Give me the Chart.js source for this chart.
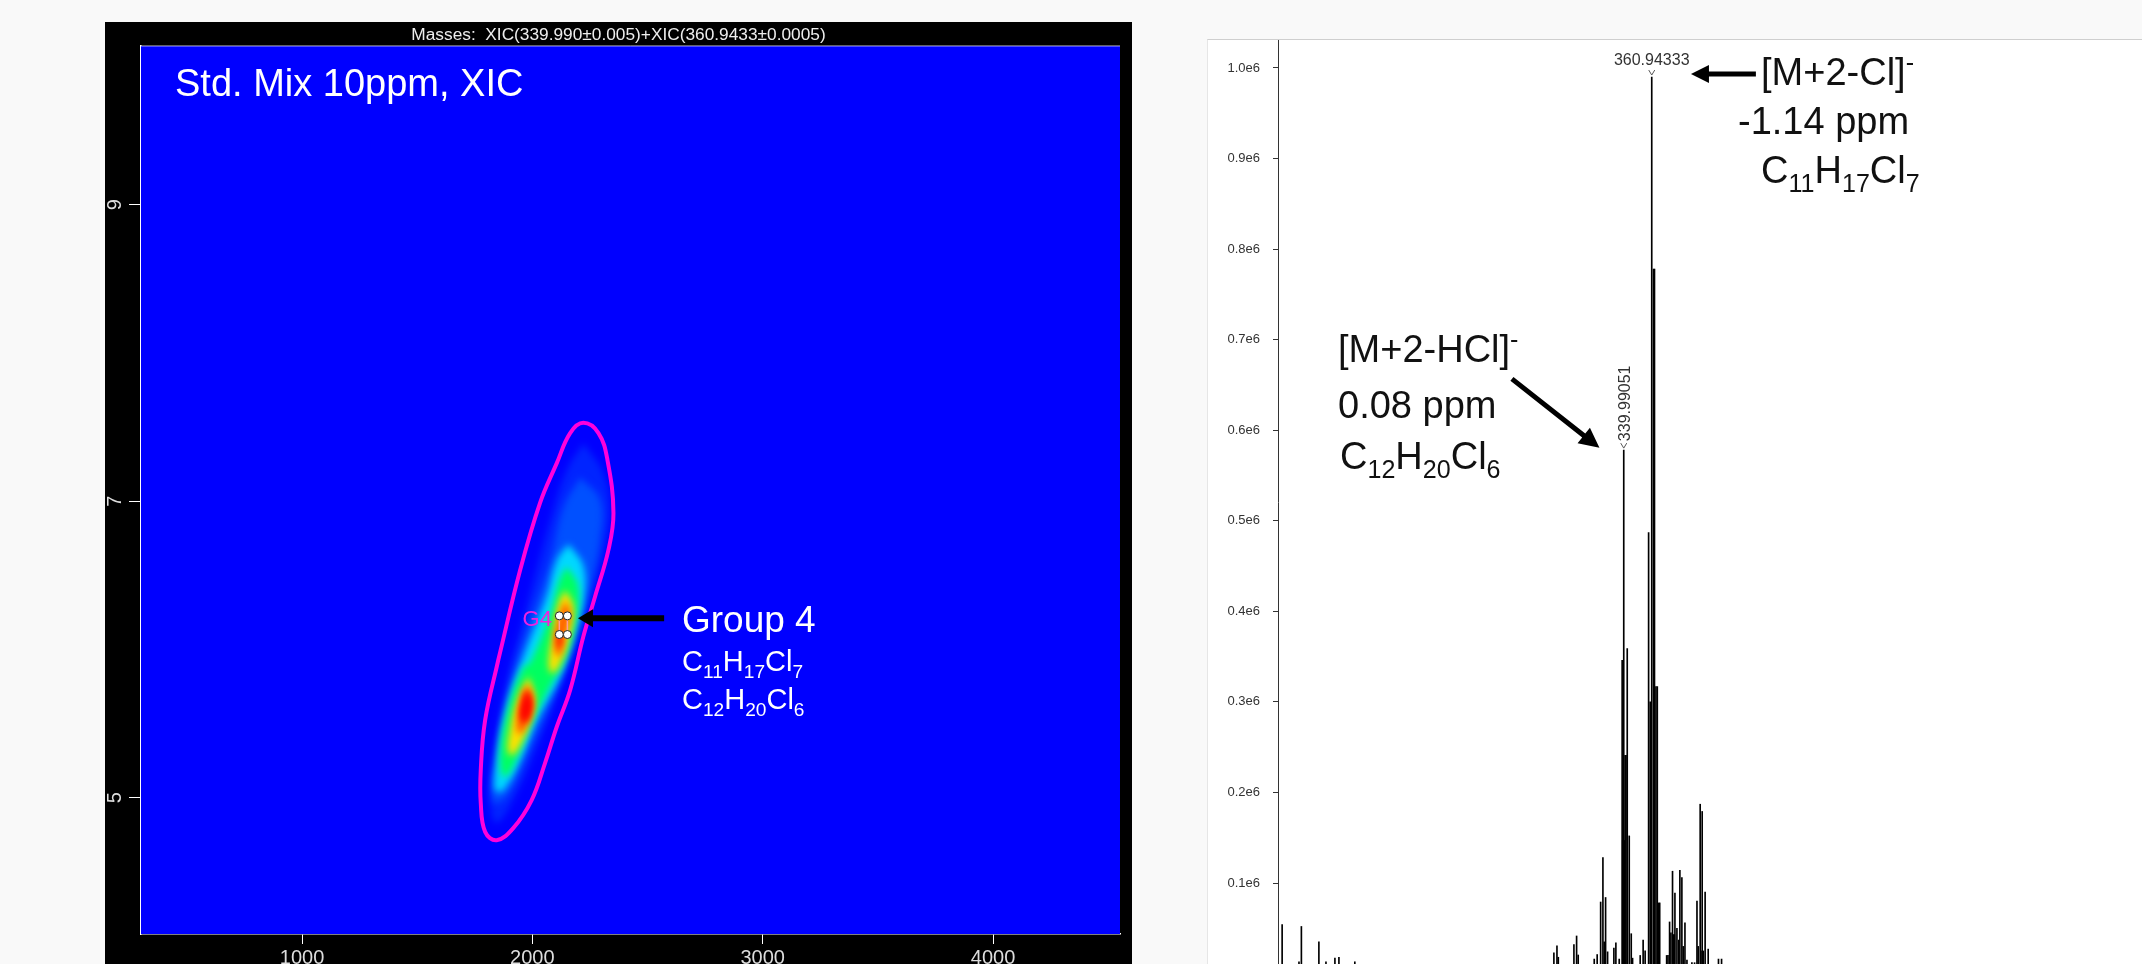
<!DOCTYPE html>
<html>
<head>
<meta charset="utf-8">
<script src="https://cdn.jsdelivr.net/npm/chart.js@4"></script>
<style>
  html, body { margin: 0; height: 100%; background: #f9f9f9; overflow: hidden; }
  body { width: 2142px; height: 964px; position: relative; font-family: "Liberation Sans", Arial, sans-serif; }
  .box { position: absolute; }
  #mapBox { left: 105px; top: 22px; width: 1027px; height: 942px; background: #000; }
  #specBox { left: 1207px; top: 39px; width: 935px; height: 925px; box-sizing: border-box; background: #fff; border-top: 1px solid #cfcfcf; border-left: 1px solid #e6e6e6; }
  .note { position: absolute; white-space: nowrap; line-height: 1; }
  .note sub { font-size: .66em; line-height: 0; }
  .note sup { font-size: .66em; line-height: 0; }
  .w { color: #fff; }
  .k { color: #111; }
</style>
</head>
<body>
<div class="box" id="mapBox"><canvas id="map"></canvas></div>
<div class="box" id="specBox"><canvas id="spec"></canvas></div>

<div class="note w" style="left:175px;top:64px;font-size:38px">Std. Mix 10ppm, XIC</div>
<div class="note w" style="left:682px;top:601px;font-size:37px">Group 4</div>
<div class="note w" style="left:682px;top:647px;font-size:29px">C<sub>11</sub>H<sub>17</sub>Cl<sub>7</sub></div>
<div class="note w" style="left:682px;top:685px;font-size:29px">C<sub>12</sub>H<sub>20</sub>Cl<sub>6</sub></div>

<div class="note k" style="left:1761px;top:53px;font-size:38px">[M+2-Cl]<sup>-</sup></div>
<div class="note k" style="left:1738px;top:102px;font-size:38px">-1.14 ppm</div>
<div class="note k" style="left:1761px;top:151px;font-size:38px">C<sub>11</sub>H<sub>17</sub>Cl<sub>7</sub></div>
<div class="note k" style="left:1338px;top:330px;font-size:38px">[M+2-HCl]<sup>-</sup></div>
<div class="note k" style="left:1338px;top:386px;font-size:38px">0.08 ppm</div>
<div class="note k" style="left:1340px;top:437px;font-size:38px">C<sub>12</sub>H<sub>20</sub>Cl<sub>6</sub></div>

<script>
// left panel: retention time map
const mapTitle = 'Masses:  XIC(339.990±0.005)+XIC(360.9433±0.0005)';
const mapXTicks = [1000, 2000, 3000, 4000];
const mapYTicks = [5, 7, 9];

const outlineX = [1852, 1947, 2033, 2106, 2164, 2221, 2287, 2326, 2352, 2330, 2272, 2221, 2164, 2106, 2055, 1997, 1917, 1845, 1795, 1776, 1776, 1795];
const outlineY = [5.928, 6.535, 6.987, 7.256, 7.459, 7.528, 7.459, 7.277, 6.919, 6.669, 6.355, 6.085, 5.725, 5.478, 5.233, 4.983, 4.794, 4.713, 4.769, 4.963, 5.186, 5.523];

const haloX = [2222, 2308, 2337, 2294, 2222, 2135, 2033, 1932, 1845, 1816, 1831, 1889, 1976, 2077, 2149];
const haloY = [7.39, 7.19, 6.92, 6.56, 6.20, 5.82, 5.39, 5.03, 4.83, 4.98, 5.32, 5.79, 6.29, 6.87, 7.21];
const blueX = [2207, 2294, 2294, 2236, 2178, 2091, 1990, 1889, 1831, 1838, 1889, 1961, 2077, 2135];
const blueY = [7.16, 7.01, 6.74, 6.33, 6.02, 5.68, 5.34, 5.01, 4.97, 5.21, 5.66, 6.06, 6.60, 6.96];
const cyanX = [2157, 2222, 2222, 2178, 2120, 2019, 1947, 1874, 1838, 1845, 1889, 1961, 2062, 2106];
const cyanY = [6.71, 6.56, 6.33, 6.09, 5.82, 5.52, 5.25, 5.05, 5.05, 5.25, 5.61, 5.95, 6.36, 6.60];
const greenX = [2149, 2200, 2185, 2135, 2077, 1990, 1910, 1874, 1860, 1896, 1961, 1990, 2077, 2113];
const greenY = [6.56, 6.42, 6.15, 5.91, 5.75, 5.48, 5.19, 5.14, 5.30, 5.61, 5.88, 5.91, 6.24, 6.45];
const yellowUpX = [2142, 2178, 2157, 2113, 2084, 2070, 2091, 2113];
const yellowUpY = [6.40, 6.29, 6.06, 5.88, 5.84, 5.91, 6.13, 6.31];
const yellowLowX = [1983, 2012, 1983, 1925, 1896, 1903, 1939];
const yellowLowY = [5.82, 5.66, 5.48, 5.30, 5.30, 5.46, 5.68];
const orangeUpX = [2142, 2164, 2135, 2117, 2099, 2109];
const orangeUpY = [6.33, 6.24, 6.06, 5.95, 6.00, 6.18];
const orangeLowX = [1978, 2002, 1973, 1939, 1935, 1954];
const orangeLowY = [5.77, 5.64, 5.48, 5.43, 5.55, 5.68];
const redUpX = [2117, 2128, 2117, 2109];
const redUpY = [6.13, 6.06, 6.00, 6.06];
const redLowX = [1978, 1993, 1968, 1954, 1964];
const redLowY = [5.73, 5.62, 5.51, 5.55, 5.66];

const dotX = [2117, 2152, 2117, 2152];
const dotY = [6.226, 6.226, 6.10, 6.10];

// right panel: mass spectrum
const specMz = [84.3, 96.9, 98.7, 111.8, 117.1, 123.8, 126.8, 138.7,
  287.7, 290, 291, 302.7, 304.7, 305.9, 317.9, 320.1, 322.7, 324.4, 325.4, 326.4, 327.9, 332.6, 334.1, 336.6,
  338.8, 339.2, 339.6, 339.99051, 340.5, 341, 341.7, 342.6, 344.1, 345.6, 346.6, 352.3, 354.5, 356,
  358.6, 359.8, 360.94333, 362.3, 363, 364.1, 365.1, 366.1, 366.9,
  372.1, 373.1, 374.3, 375.3, 376.5, 377.2, 377.9, 378.3, 379.8, 381.1, 382, 383.5, 384.5, 385.8, 387.3, 391, 393,
  394.8, 395.7, 397.2, 397.8, 398.7, 399.5, 400.9, 403.2, 410.9, 413.2];
const specIntensity = [54000, 13000, 52000, 35000, 13000, 17000, 18000, 13000,
  23000, 30500, 18000, 32000, 41500, 20500, 16000, 21000, 79000, 128000, 35000, 84000, 24000, 28000, 34000, 16000,
  346000, 147000, 147000, 578000, 147000, 241000, 241000, 359000, 152000, 44000, 17000, 20000, 37000, 25000,
  487000, 300000, 990000, 778000, 778000, 317000, 317000, 78000, 78000,
  20000, 20000, 57000, 45000, 113000, 43000, 43000, 89000, 50000, 37000, 114000, 106000, 30000, 56000, 15000, 12000, 12000,
  80000, 30000, 187000, 25000, 179000, 25000, 90000, 27000, 16000, 16000];
const specYTicks = [100000, 200000, 300000, 400000, 500000, 600000, 700000, 800000, 900000, 1000000];
const labelledMz = [360.94333, 339.99051];

function closed(xs, ys) {
  const pts = xs.map((x, i) => ({ x: x, y: ys[i] }));
  pts.push(pts[0]);
  return pts;
}

function contour(xs, ys, colour, order) {
  return {
    type: 'scatter', data: closed(xs, ys), showLine: true, fill: 'shape',
    backgroundColor: colour, borderWidth: 0, pointRadius: 0, tension: 0.4, order: order
  };
}

function drawArrow(ctx, x1, y1, x2, y2, width, headLen, headHalf) {
  const a = Math.atan2(y2 - y1, x2 - x1);
  ctx.save();
  ctx.translate(x2, y2);
  ctx.rotate(a);
  ctx.fillStyle = '#000';
  ctx.beginPath();
  ctx.moveTo(0, 0);
  ctx.lineTo(-headLen, -headHalf);
  ctx.lineTo(-headLen, -width / 2);
  ctx.lineTo(-Math.hypot(x2 - x1, y2 - y1), -width / 2);
  ctx.lineTo(-Math.hypot(x2 - x1, y2 - y1), width / 2);
  ctx.lineTo(-headLen, width / 2);
  ctx.lineTo(-headLen, headHalf);
  ctx.closePath();
  ctx.fill();
  ctx.restore();
}

const contourCount = 11;

const mapPaint = {
  id: 'mapPaint',
  beforeDatasetsDraw(chart) {
    const a = chart.chartArea, ctx = chart.ctx;
    ctx.save();
    ctx.fillStyle = '#0000ff';
    ctx.fillRect(a.left, a.top, a.width, a.height);
    ctx.restore();
    ctx.filter = 'blur(3.5px)';
  },
  afterDatasetDraw(chart, args) {
    // the smallest contour goes last, the outline and dots stay sharp
    if (args.index === contourCount - 1) chart.ctx.filter = 'none';
  },
  afterDatasetsDraw(chart) {
    const ctx = chart.ctx, sx = chart.scales.x, sy = chart.scales.y;
    ctx.save();
    ctx.filter = 'none';
    ctx.strokeStyle = 'rgba(255,255,255,0.7)';
    ctx.lineWidth = 1;
    ctx.beginPath();
    ctx.moveTo(sx.left, sy.top);
    ctx.lineTo(sx.right, sy.top);
    ctx.stroke();
    ctx.fillStyle = '#f020e0';
    ctx.font = '22px "Liberation Sans"';
    ctx.textAlign = 'center';
    ctx.textBaseline = 'middle';
    ctx.fillText('G4', sx.getPixelForValue(2021), sy.getPixelForValue(6.2));
    ctx.restore();
    drawArrow(ctx, sx.getPixelForValue(2572), sy.getPixelForValue(6.21), sx.getPixelForValue(2198), sy.getPixelForValue(6.21), 6, 15, 9);
  }
};

new Chart(document.getElementById('map'), {
  data: {
    datasets: [
      contour(haloX, haloY, '#0024ff', 30),
      contour(blueX, blueY, '#0050ff', 29),
      contour(cyanX, cyanY, '#00d8ff', 28),
      contour(greenX, greenY, '#00ff60', 27),
      contour(yellowUpX, yellowUpY, '#ffe000', 26),
      contour(yellowLowX, yellowLowY, '#ffe000', 25),
      contour(orangeUpX, orangeUpY, '#ff5a00', 24),
      contour(orangeLowX, orangeLowY, '#ff5a00', 23),
      contour(redUpX, redUpY, '#ff0000', 22),
      contour(redLowX, redLowY, '#ff0000', 21),
      contour(redLowX, redLowY, '#ff0000', 20),
      {
        type: 'scatter', data: closed(outlineX, outlineY), showLine: true, fill: false,
        borderColor: '#ff00dc', borderWidth: 4, pointRadius: 0, tension: 0.4, order: 3
      },
      {
        type: 'scatter', data: [{ x: dotX[0], y: dotY[0] }, { x: dotX[2], y: dotY[2] }, { x: null, y: null }, { x: dotX[1], y: dotY[1] }, { x: dotX[3], y: dotY[3] }],
        showLine: true, borderColor: '#ff9a9a', borderWidth: 1.5, pointRadius: 0, order: 2
      },
      {
        type: 'scatter', data: dotX.map((x, i) => ({ x: x, y: dotY[i] })),
        pointRadius: 4, pointBackgroundColor: '#fff', pointBorderColor: '#222', pointBorderWidth: 1, order: 1
      }
    ]
  },
  options: {
    responsive: true,
    maintainAspectRatio: false,
    animation: false,
    plugins: {
      legend: { display: false },
      tooltip: { enabled: false },
      title: {
        display: true, text: mapTitle, color: '#eee',
        font: { family: '"Liberation Sans"', size: 17.3, weight: 'normal' },
        padding: { top: 3, bottom: 0.2 }
      }
    },
    scales: {
      x: {
        type: 'linear', min: 301, max: 4551,
        afterBuildTicks(s) { s.ticks = mapXTicks.map(v => ({ value: v })); },
        afterFit(s) { s.height = 30; },
        border: { color: '#fff', width: 1.5 },
        grid: { drawOnChartArea: false, color: '#fff', tickLength: 10 },
        ticks: { color: '#ddd', font: { family: '"Liberation Sans"', size: 20 }, padding: 2, maxRotation: 0, autoSkip: false, callback: v => String(v) }
      },
      y: {
        type: 'linear', min: 4.08, max: 10.07,
        afterBuildTicks(s) { s.ticks = mapYTicks.map(v => ({ value: v })); },
        afterFit(s) { s.width = 36; },
        border: { color: '#fff', width: 1.5 },
        grid: { drawOnChartArea: false, color: '#fff', tickLength: 12 },
        ticks: { color: '#ddd', font: { family: '"Liberation Sans"', size: 20 }, padding: 7.5, minRotation: 90, maxRotation: 90, crossAlign: 'center', autoSkip: false, callback: v => String(v) }
      },
      // empty right axis only keeps the black margin, so the title stays centred on the panel
      margin: {
        type: 'linear', position: 'right',
        afterFit(s) { s.width = 12; },
        border: { display: false },
        grid: { display: false },
        ticks: { display: false }
      }
    }
  },
  plugins: [mapPaint]
});

const specPaint = {
  id: 'specPaint',
  afterDatasetsDraw(chart) {
    const ctx = chart.ctx, sx = chart.scales.x, sy = chart.scales.y;
    const topOf = mz => sy.getPixelForValue(specIntensity[specMz.indexOf(mz)]);
    ctx.save();
    ctx.fillStyle = '#333';
    ctx.strokeStyle = '#555';
    ctx.lineWidth = 1;
    ctx.font = '16px "Liberation Sans"';
    // base peak label sits flat above its tick, the second one is turned
    const px = sx.getPixelForValue(labelledMz[0]), py = topOf(labelledMz[0]);
    ctx.textAlign = 'center';
    ctx.textBaseline = 'alphabetic';
    ctx.fillText(labelledMz[0].toFixed(5), px, py - 12);
    ctx.beginPath();
    ctx.moveTo(px - 3, py - 7);
    ctx.lineTo(px, py - 2);
    ctx.lineTo(px + 3, py - 7);
    ctx.stroke();
    const qx = sx.getPixelForValue(labelledMz[1]), qy = topOf(labelledMz[1]);
    ctx.beginPath();
    ctx.moveTo(qx + 3, qy - 7);
    ctx.lineTo(qx, qy - 2);
    ctx.lineTo(qx - 3, qy - 7);
    ctx.stroke();
    ctx.translate(qx + 2, qy - 9);
    ctx.rotate(-Math.PI / 2);
    ctx.textAlign = 'left';
    ctx.textBaseline = 'middle';
    ctx.fillText(labelledMz[1].toFixed(5), 0, 0);
    ctx.restore();
    drawArrow(ctx, sx.getPixelForValue(438.9), sy.getPixelForValue(993400), sx.getPixelForValue(390.3), sy.getPixelForValue(993400), 5, 18, 9);
    drawArrow(ctx, sx.getPixelForValue(256.3), sy.getPixelForValue(656700), sx.getPixelForValue(321.8), sy.getPixelForValue(580500), 5, 20, 10);
  }
};

new Chart(document.getElementById('spec'), {
  type: 'bar',
  data: {
    datasets: [{
      data: specMz.map((mz, i) => ({ x: mz, y: specIntensity[i] })),
      backgroundColor: '#000',
      barThickness: 1
    }]
  },
  options: {
    responsive: true,
    maintainAspectRatio: false,
    animation: false,
    plugins: { legend: { display: false }, tooltip: { enabled: false } },
    scales: {
      x: { type: 'linear', min: 81.2, max: 727.9, offset: false, display: false },
      y: {
        type: 'linear', min: 10557, max: 1030900,
        afterBuildTicks(s) { s.ticks = specYTicks.map(v => ({ value: v })); },
        afterFit(s) { s.width = 70; s.paddingTop = 0; s.paddingBottom = 0; },
        border: { color: '#333' },
        grid: { drawOnChartArea: false, color: '#333', tickLength: 5 },
        ticks: { color: '#333', font: { family: '"Liberation Sans"', size: 13 }, padding: 13, autoSkip: false, callback: v => (v / 1e6).toFixed(1) + 'e6' }
      }
    }
  },
  plugins: [specPaint]
});
</script>
</body>
</html>
